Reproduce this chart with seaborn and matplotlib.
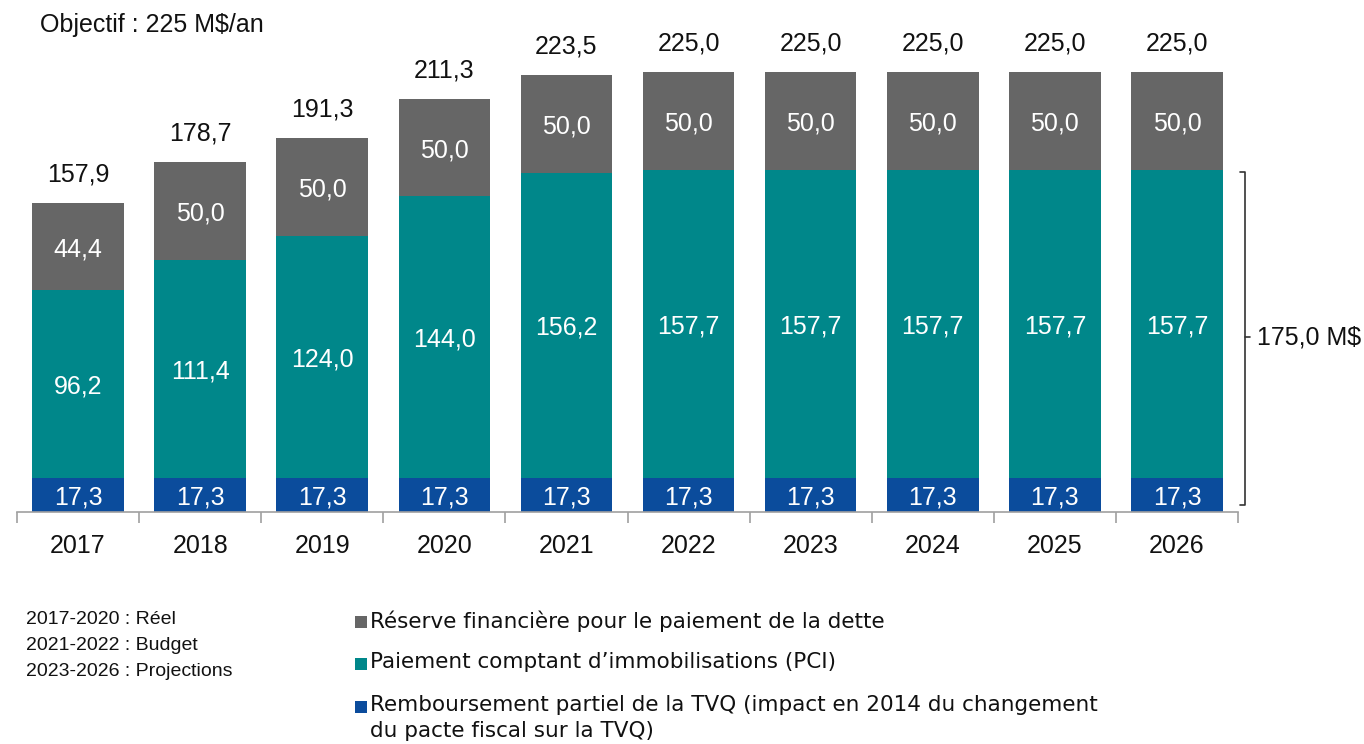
import matplotlib
matplotlib.use("Agg")
import matplotlib.pyplot as plt
import seaborn as sns
import pandas as pd
from matplotlib.patches import Rectangle

years = ["2017", "2018", "2019", "2020", "2021", "2022", "2023", "2024", "2025", "2026"]
tvq = [17.3] * 10
pci = [96.2, 111.4, 124.0, 144.0, 156.2, 157.7, 157.7, 157.7, 157.7, 157.7]
reserve = [44.4, 50.0, 50.0, 50.0, 50.0, 50.0, 50.0, 50.0, 50.0, 50.0]
totals = [157.9, 178.7, 191.3, 211.3, 223.5, 225.0, 225.0, 225.0, 225.0, 225.0]
legend_labels = ["Réserve financière pour le paiement de la dette",
                 "Paiement comptant d\u2019immobilisations (PCI)",
                 "Remboursement partiel de la TVQ (impact en 2014 du changement\ndu pacte fiscal sur la TVQ)"]
notes = ["2017-2020 : Réel", "2021-2022 : Budget", "2023-2026 : Projections"]
bracket_label = "175,0 M$"
objective = "Objectif : 225 M$/an"

C_GRAY = "#666666"
C_TEAL = "#00878A"
C_BLUE = "#0B4C9C"

sns.set_theme(style="white")
plt.rcParams["font.family"] = ["Liberation Sans", "DejaVu Sans"]

df = pd.DataFrame({"year": years, "tvq": tvq, "pci": pci, "reserve": reserve})
df["lvl2"] = df["tvq"] + df["pci"]
df["lvl3"] = df["lvl2"] + df["reserve"]

W, H = 1364, 744
fig = plt.figure(figsize=(W / 100, H / 100), dpi=100)
ax = fig.add_axes([17 / W, (H - 512) / H, (1238 - 17) / W, 512 / H])

sns.barplot(data=df, x="year", y="lvl3", color=C_GRAY, width=0.75, ax=ax, saturation=1, linewidth=0)
sns.barplot(data=df, x="year", y="lvl2", color=C_TEAL, width=0.75, ax=ax, saturation=1, linewidth=0)
sns.barplot(data=df, x="year", y="tvq", color=C_BLUE, width=0.75, ax=ax, saturation=1, linewidth=0)

ax.set_xlim(-0.5, len(years) - 0.5)
ax.set_ylim(0, 512 / 1.956)
ax.set_xlabel("")
ax.set_ylabel("")
ax.set_yticks([])
for s in ["top", "right", "left"]:
    ax.spines[s].set_visible(False)
ax.spines["bottom"].set_color("#A0A0A0")
ax.spines["bottom"].set_linewidth(1.2)

# ticks at category boundaries, labels at centres
ax.set_xticks([i - 0.5 for i in range(len(years) + 1)])
ax.set_xticklabels([])
ax.tick_params(axis="x", which="major", length=8, width=1.2, color="#A0A0A0", direction="out", bottom=True)
ax.set_xticks(range(len(years)), minor=True)
ax.set_xticklabels(years, minor=True)
ax.tick_params(axis="x", which="minor", length=0, pad=16, labelsize=18, labelcolor="#111111")

fs = 18
for i in range(len(years)):
    ax.text(i, tvq[i] / 2, f"{tvq[i]:.1f}".replace(".", ","), ha="center", va="center_baseline", color="white", fontsize=fs)
    ax.text(i, tvq[i] + pci[i] / 2, f"{pci[i]:.1f}".replace(".", ","), ha="center", va="center_baseline", color="white", fontsize=fs)
    ax.text(i, tvq[i] + pci[i] + reserve[i] / 2, f"{reserve[i]:.1f}".replace(".", ","), ha="center", va="center_baseline", color="white", fontsize=fs)
    ax.annotate(f"{totals[i]:.1f}".replace(".", ","), (i, totals[i]), xytext=(0, 12), textcoords="offset points",
                ha="center", va="bottom", color="#111111", fontsize=fs)

# bracket for TVQ + PCI
top = tvq[-1] + pci[-1]
bx = len(years) - 0.5 + 0.057
ax.plot([bx - 0.04, bx, bx, bx - 0.04], [top - 1, top - 1, 3.5, 3.5], color="#333333", lw=1.2, clip_on=False)
mid = (top + 3.5) / 2
ax.plot([bx, bx + 0.04], [mid, mid], color="#333333", lw=1.2, clip_on=False)
ax.text(bx + 0.1, mid, bracket_label, ha="left", va="center", fontsize=fs, color="#111111")

fig.text(40 / W, 1 - 25 / H, objective, ha="left", va="center", fontsize=fs, color="#111111")

for k, t in enumerate(notes):
    fig.text(26 / W, 1 - (619 + 26.5 * k) / H, t, ha="left", va="center", fontsize=14, color="#111111")

leg_colors = [C_GRAY, C_TEAL, C_BLUE]
leg_y = [622, 664, 707]
for c, y, t in zip(leg_colors, leg_y, legend_labels):
    fig.patches.append(Rectangle((355 / W, 1 - (y + 6) / H), 12 / W, 12 / H, transform=fig.transFigure,
                                 facecolor=c, edgecolor="none"))
    fig.text(370 / W, 1 - (y - 12) / H, t, ha="left", va="top", fontsize=15.5, color="#111111",
             linespacing=1.4, family=["DejaVu Sans"])

fig.savefig("out.png", dpi=100)
